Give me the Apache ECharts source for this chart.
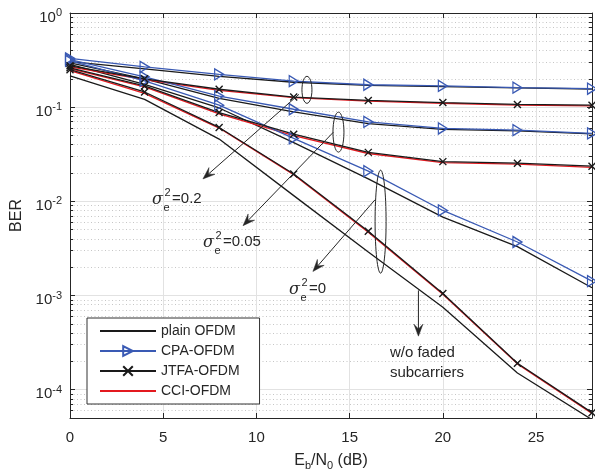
<!DOCTYPE html>
<html><head><meta charset="utf-8">
<script src="https://cdn.jsdelivr.net/npm/echarts@6/dist/echarts.min.js"></script>
<style>html,body{margin:0;padding:0;background:#fff}#c{width:595px;height:476px}</style>
</head><body><div id="c"></div>
<script>
// ---------- data ----------
const ebn0 = [0, 4, 8, 12, 16, 20, 24, 28];
// sigma_e^2 = 0.2
const plain_s02 = [0.305, 0.255, 0.212, 0.184, 0.170, 0.165, 0.160, 0.156];
const cpa_s02   = [0.330, 0.268, 0.223, 0.189, 0.173, 0.168, 0.161, 0.157];
const jtfa_s02  = [0.275, 0.200, 0.155, 0.128, 0.118, 0.112, 0.107, 0.105];
const cci_s02   = [0.268, 0.196, 0.151, 0.126, 0.116, 0.110, 0.105, 0.103];
// sigma_e^2 = 0.05
const plain_s005 = [0.295, 0.200, 0.124, 0.089, 0.067, 0.058, 0.056, 0.052];
const cpa_s005   = [0.320, 0.210, 0.131, 0.095, 0.0698, 0.0594, 0.057, 0.0526];
const jtfa_s005  = [0.262, 0.168, 0.0877, 0.0517, 0.0331, 0.0264, 0.0254, 0.0236];
const cci_s005   = [0.256, 0.164, 0.085, 0.050, 0.0322, 0.0258, 0.0248, 0.0229];
// sigma_e^2 = 0
const plain_s0 = [0.285, 0.175, 0.098, 0.042, 0.0173, 0.0068, 0.0033, 0.00121];
const cpa_s0   = [0.310, 0.190, 0.105, 0.0466, 0.0209, 0.0080, 0.0037, 0.00142];
const jtfa_s0  = [0.250, 0.145, 0.0609, 0.0195, 0.0048, 0.00105, 0.000191, 0.000057];
const cci_s0   = [0.245, 0.140, 0.060, 0.0192, 0.0047, 0.00103, 0.000188, 0.000056];
// plain OFDM without faded subcarriers
const plain_nofade = [0.215, 0.121, 0.0458, 0.0115, 0.0029, 0.00075, 0.00015, 0.000048];

const xTicks = [0, 5, 10, 15, 20, 25];
const yDecadeExps = [-4, -3, -2, -1, 0];
const minorMult = [2, 3, 4, 5, 6, 7, 8, 9];
const yMinBER = 5e-5, yMaxBER = 1;
const legendNames = ['plain OFDM', 'CPA-OFDM', 'JTFA-OFDM', 'CCI-OFDM'];

// ---------- styles ----------
const FONT = 'Liberation Sans, Arial, Helvetica, sans-serif';
const AX = '#262626';
const BLUE = '#3a5ab4';
const RED = '#e3191f';
const BLACK = '#1a1a1a';
const LW = 1.3;
const CLEAR = 'rgba(0,0,0,0)';

const L10 = v => Math.log10(v);
const pts = arr => arr.map((v, i) => [ebn0[i], L10(v)]);
const yMin = L10(yMinBER), yMax = L10(yMaxBER);
const minorVals = [];
for (let k = -5; k <= -1; k++) for (const m of minorMult) {
  const v = m * Math.pow(10, k);
  if (v > yMinBER * 1.0001 && v < yMaxBER) minorVals.push(L10(v));
}

function mk(kind, data) {
  const base = { type: 'line', data: pts(data), xAxisIndex: 0, yAxisIndex: 0,
    animation: false, emphasis: { disabled: true }, silent: true, clip: true };
  if (kind === 'plain') return Object.assign(base, { name: legendNames[0], symbol: 'circle', showSymbol: false,
    itemStyle: { color: CLEAR, borderColor: CLEAR, borderWidth: 0 }, lineStyle: { color: BLACK, width: LW } });
  if (kind === 'cpa') return Object.assign(base, { name: legendNames[1],
    symbol: 'path://M0,0L10,5L0,10Z', symbolSize: [9, 11], showAllSymbol: true,
    itemStyle: { color: 'rgba(255,255,255,0)', borderColor: BLUE, borderWidth: 1.3 },
    lineStyle: { color: BLUE, width: LW } });
  if (kind === 'jtfa') return Object.assign(base, { name: legendNames[2],
    symbol: 'path://M0,0L10,10M10,0L0,10', symbolSize: 7, showAllSymbol: true,
    itemStyle: { color: CLEAR, borderColor: BLACK, borderWidth: 1.4 },
    lineStyle: { color: BLACK, width: LW } });
  return Object.assign(base, { name: legendNames[3], symbol: 'circle', showSymbol: false,
    itemStyle: { color: CLEAR, borderColor: CLEAR, borderWidth: 0 }, lineStyle: { color: RED, width: LW } });
}

const series = [
  mk('plain', plain_s02), mk('plain', plain_s005), mk('plain', plain_s0), mk('plain', plain_nofade),
  mk('cci', cci_s02), mk('cci', cci_s005), mk('cci', cci_s0),
  mk('cpa', cpa_s02), mk('cpa', cpa_s005), mk('cpa', cpa_s0),
  mk('jtfa', jtfa_s02), mk('jtfa', jtfa_s005), mk('jtfa', jtfa_s0)
];

const chart = echarts.init(document.getElementById('c'), null, { renderer: 'canvas' });
const noLine = { show: false, onZero: false };
chart.setOption({
  animation: false,
  backgroundColor: '#fff',
  textStyle: { fontFamily: FONT },
  grid: { left: 70, top: 13, right: 3, bottom: 56, containLabel: false },
  legend: {
    data: legendNames, orient: 'vertical', left: 87, top: 318,
    backgroundColor: '#fff', borderColor: '#333', borderWidth: 1,
    padding: [6, 20, 6, 12], itemGap: 6, itemWidth: 56, itemHeight: 12,
    textStyle: { fontSize: 14, color: AX, fontFamily: FONT }, selectedMode: false
  },
  xAxis: [
    { type: 'value', min: 0, max: 28, position: 'bottom',
      axisLine: { show: true, onZero: false, lineStyle: { color: AX, width: 1 } },
      axisTick: { show: true, inside: true, length: 5, customValues: xTicks, lineStyle: { color: AX } },
      axisLabel: { customValues: xTicks, fontSize: 15, color: AX, margin: 12, fontFamily: FONT },
      splitLine: { show: true, lineStyle: { color: '#e2e2e2', width: 1 } },
      name: '{n|E}{s|b}{n|/N}{s|0}{n| (dB)}', nameLocation: 'middle', nameGap: 33,
      nameTextStyle: { rich: {
        n: { fontSize: 16, color: AX, fontFamily: FONT },
        s: { fontSize: 11, color: AX, fontFamily: FONT, padding: [9, 0, 0, 0] } } } },
    { type: 'value', min: 0, max: 28, position: 'top',
      axisLine: { show: true, onZero: false, lineStyle: { color: AX, width: 1 } },
      axisTick: { show: true, inside: true, length: 5, customValues: xTicks, lineStyle: { color: AX } },
      axisLabel: { show: false }, splitLine: { show: false } }
  ],
  yAxis: [
    { type: 'value', min: yMin, max: yMax, position: 'left',
      axisLine: { show: true, onZero: false, lineStyle: { color: AX, width: 1 } },
      axisTick: { show: true, inside: true, length: 5, customValues: yDecadeExps, lineStyle: { color: AX } },
      axisLabel: { customValues: yDecadeExps, margin: 8, color: AX,
        formatter: v => '{b|10}{s|' + Math.round(v) + '}',
        rich: { b: { fontSize: 15, color: AX, fontFamily: FONT, padding: [9, 0, 0, 0] },
                s: { fontSize: 11, color: AX, fontFamily: FONT } } },
      splitLine: { show: true, lineStyle: { color: '#e2e2e2', width: 1 } },
      name: 'BER', nameLocation: 'middle', nameGap: 40, nameRotate: 90,
      nameTextStyle: { fontSize: 16, color: AX, fontFamily: FONT } },
    { type: 'value', min: yMin, max: yMax, position: 'left',
      axisLine: noLine,
      axisTick: { show: true, inside: true, length: 3, customValues: minorVals, lineStyle: { color: AX } },
      axisLabel: { show: false },
      splitLine: { show: true, lineStyle: { color: '#c6c6c6', width: 1, type: [1, 2.5] } } },
    { type: 'value', min: yMin, max: yMax, position: 'right',
      axisLine: { show: true, onZero: false, lineStyle: { color: AX, width: 1 } },
      axisTick: { show: true, inside: true, length: 5, customValues: yDecadeExps, lineStyle: { color: AX } },
      axisLabel: { show: false }, splitLine: { show: false } },
    { type: 'value', min: yMin, max: yMax, position: 'right',
      axisLine: noLine,
      axisTick: { show: true, inside: true, length: 3, customValues: minorVals, lineStyle: { color: AX } },
      axisLabel: { show: false }, splitLine: { show: false } }
  ],
  series: series
});

// ---------- annotations (anchored in data coordinates: [Eb/N0, BER]) ----------
const annEllipses = [ { c: [12.71, 0.1528], rx: 5, ry: 13.5 },
                      { c: [14.40, 0.0543], rx: 5.5, ry: 20 },
                      { c: [16.66, 0.00608], rx: 5.5, ry: 51.5 } ];
const annArrows = [ { from: [12.28, 0.1368], to: [7.13, 0.0173] },
                    { from: [14.13, 0.0543], to: [9.28, 0.00551] },
                    { from: [16.36, 0.01038], to: [13.03, 0.0018] },
                    { from: [18.69, 0.001132], to: [18.69, 0.00037] } ];
const annSigma = [ { at: [4.40, 0.01038], val: '=0.2' },
                   { at: [7.13, 0.00365], val: '=0.05' },
                   { at: [11.75, 0.001135], val: '=0' } ];
const annText = { at: [17.16, 0.000245], lines: ['w/o faded', 'subcarriers'] };

const px = p => chart.convertToPixel({ xAxisIndex: 0, yAxisIndex: 0 }, [p[0], L10(p[1])]);
const g = [];
function txt(x, y, s, font) {
  return { type: 'text', x: x, y: y, silent: true, z: 100,
    style: { text: s, font: font, fill: AX, align: 'left', verticalAlign: 'middle',
             textAlign: 'left', textVerticalAlign: 'middle' } };
}
annEllipses.forEach(e => {
  const c = px(e.c);
  g.push({ type: 'ellipse', silent: true, z: 100, shape: { cx: c[0], cy: c[1], rx: e.rx, ry: e.ry },
    style: { fill: 'none', stroke: AX, lineWidth: 1 } });
});
annArrows.forEach(a => {
  const s = px(a.from), t = px(a.to);
  const dx = t[0] - s[0], dy = t[1] - s[1], d = Math.hypot(dx, dy);
  const ux = dx / d, uy = dy / d, nx = -uy, ny = ux;
  const len = 12, w = 4.5;
  g.push({ type: 'line', silent: true, z: 100,
    shape: { x1: s[0], y1: s[1], x2: t[0] - ux * 6, y2: t[1] - uy * 6 },
    style: { stroke: AX, lineWidth: 1 } });
  g.push({ type: 'polygon', silent: true, z: 100, shape: { points: [
      [t[0], t[1]],
      [t[0] - ux * len + nx * w, t[1] - uy * len + ny * w],
      [t[0] - ux * len * 0.6, t[1] - uy * len * 0.6],
      [t[0] - ux * len - nx * w, t[1] - uy * len - ny * w] ] },
    style: { fill: AX, stroke: AX, lineWidth: 0.5 } });
});
annSigma.forEach(sg => {
  const p = px(sg.at);
  g.push(txt(p[0], p[1], 'σ', 'italic 16px "DejaVu Serif", serif'));
  g.push(txt(p[0] + 12.5, p[1] - 7, '2', '11px ' + FONT));
  g.push(txt(p[0] + 11.5, p[1] + 8, 'e', '11px ' + FONT));
  g.push(txt(p[0] + 20, p[1] - 1, sg.val, '15px ' + FONT));
});
(function () {
  const p = px(annText.at);
  annText.lines.forEach((s, i) => g.push(txt(p[0], p[1] + i * 20, s, '15px ' + FONT)));
})();
chart.setOption({ graphic: g });
</script>
</body></html>
